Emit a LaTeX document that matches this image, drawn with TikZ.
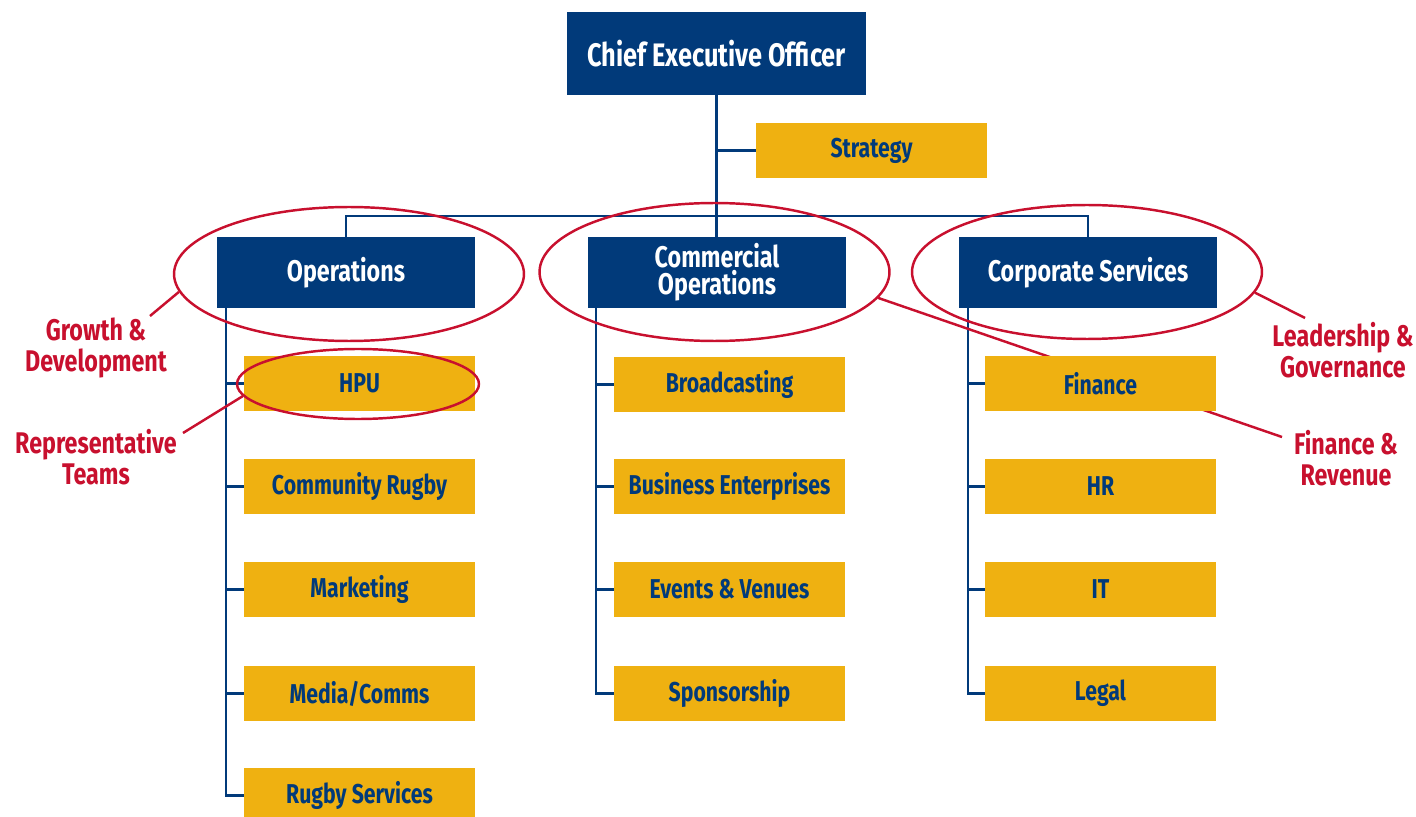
\documentclass[tikz,border=0pt]{standalone}
\usepackage{fontspec}
\setmainfont{Fira Sans}[FakeStretch=0.78]
\usepackage{xcolor}
\usepackage{tikz}
\usetikzlibrary{shapes.geometric, positioning, calc, backgrounds}
\definecolor{rugbynavy}{RGB}{1,58,122}
\definecolor{rugbygold}{RGB}{239,177,17}
\definecolor{rugbyred}{RGB}{200,16,46}

\tikzset{
  headbox/.style={rectangle,fill=rugbynavy,text=white,inner sep=0pt,align=center,font=\bfseries\fontsize{17}{15.5}\selectfont},
  unitbox/.style={rectangle,fill=rugbygold,text=rugbynavy,inner sep=0pt,minimum width=4.62cm,minimum height=1.1cm,font=\bfseries\fontsize{15.5}{16}\selectfont},
  link/.style={draw=rugbynavy,line width=1.6pt},
  ring/.style={ellipse,draw=rugbyred,line width=1.4pt,inner sep=0pt},
  callout/.style={draw=rugbyred,line width=1.4pt},
  note/.style={text=rugbyred,inner sep=0pt,align=center,font=\bfseries\fontsize{17}{17.6}\selectfont}
}

\begin{document}
\begin{tikzpicture}[x=0.02cm,y=-0.02cm]
    \useasboundingbox (0,0) rectangle (1416,817);

    % Vertice
    \node[headbox,minimum width=5.98cm,minimum height=1.66cm,font=\bfseries\fontsize{18.5}{20}\selectfont] (ceo) at (716.5,53.5) {Chief Executive Officer};
    \node[unitbox] (strategy) at (871.5,150.5) {Strategy};

    % Divisioni
    \node[headbox,minimum width=5.16cm,minimum height=1.42cm] (ops) at (346,272.5) {Operations};
    \node[headbox,minimum width=5.16cm,minimum height=1.42cm] (comm) at (717,272.5) {Commercial \\ Operations};
    \node[headbox,minimum width=5.16cm,minimum height=1.42cm] (corp) at (1088,272.5) {Corporate Services};

    % Operations
    \node[unitbox] (hpu) at (359.5,383.5) {HPU};
    \node[unitbox] (community) at (359.5,486.5) {Community Rugby};
    \node[unitbox] (marketing) at (359.5,589.5) {Marketing};
    \node[unitbox] (media) at (359.5,693.5) {Media/Comms};
    \node[unitbox] (rugbysvc) at (359.5,795.5) {Rugby Services};

    % Commercial Operations
    \node[unitbox] (broadcast) at (729.5,384.5) {Broadcasting};
    \node[unitbox] (business) at (729.5,486.5) {Business Enterprises};
    \node[unitbox] (events) at (729.5,589.5) {Events \& Venues};
    \node[unitbox] (sponsor) at (729.5,693.5) {Sponsorship};

    % Corporate Services
    \node[unitbox] (finance) at (1100.5,383.5) {Finance};
    \node[unitbox] (hr) at (1100.5,486.5) {HR};
    \node[unitbox] (it) at (1100.5,589.5) {IT};
    \node[unitbox] (legal) at (1100.5,693.5) {Legal};

    % Evidenziazioni
    \node[ring,minimum width=7cm,minimum height=2.68cm] (opsring) at (349,274) {};
    \node[ring,minimum width=7cm,minimum height=2.76cm] (commring) at (714.5,272) {};
    \node[ring,minimum width=7cm,minimum height=2.68cm] (corpring) at (1087,272) {};
    \node[ring,minimum width=4.84cm,minimum height=1.4cm] (hpuring) at (358,384) {};

    \node[note] (growth) at (96,348) {Growth \& \\ Development};
    \node[note] (repteams) at (96,457) {Representative \\ Teams};
    \node[note] (leader) at (1343,350) {Leadership \& \\ Governance};
    \node[note] (finrev) at (1346,458) {Finance \& \\ Revenue};

    \coordinate (growthtip) at (150,316);
    \coordinate (repteamstip) at (183,433);
    \coordinate (leadertip) at (1305,318);
    \coordinate (finrevtip) at (1282,437);

    \draw[callout] (opsring.186.5) -- (growthtip);
    \draw[callout] (hpuring.186.6) -- (repteamstip);
    \draw[callout] (corpring.-7.8) -- (leadertip);

    \begin{scope}[on background layer]
    % Collegamenti
    \draw[link] (ceo.south) -- (ceo.south |- comm.north);
    \draw[link] (strategy.west) -- (strategy.west -| ceo.south);
    \coordinate (bus) at (716.5,216);
    \draw[link] (ops.north) |- (bus) -| (corp.north);

    \coordinate (opsspine) at (226,308);
    \draw[link] (opsspine) |- (rugbysvc.west);
    \draw[link] (opsspine |- hpu.west) -- (hpu.west);
    \draw[link] (opsspine |- community.west) -- (community.west);
    \draw[link] (opsspine |- marketing.west) -- (marketing.west);
    \draw[link] (opsspine |- media.west) -- (media.west);

    \coordinate (commspine) at (596,308);
    \draw[link] (commspine) |- (sponsor.west);
    \draw[link] (commspine |- broadcast.west) -- (broadcast.west);
    \draw[link] (commspine |- business.west) -- (business.west);
    \draw[link] (commspine |- events.west) -- (events.west);

    \coordinate (corpspine) at (968,308);
    \draw[link] (corpspine) |- (legal.west);
    \draw[link] (corpspine |- finance.west) -- (finance.west);
    \draw[link] (corpspine |- hr.west) -- (hr.west);
    \draw[link] (corpspine |- it.west) -- (it.west);

    % passa dietro a Finance
    \draw[callout] (commring.-9.1) -- (finrevtip);
    \end{scope}
\end{tikzpicture}
\end{document}
